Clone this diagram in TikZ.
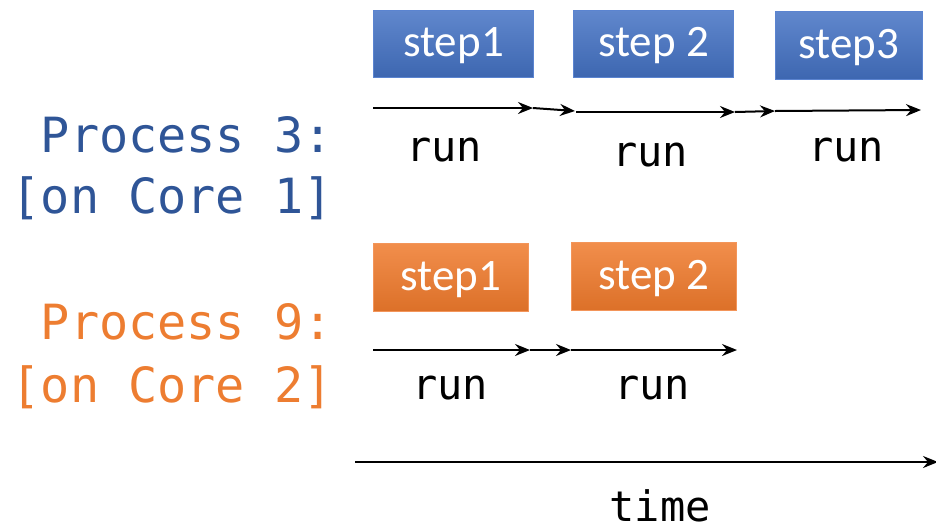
\documentclass[tikz,border=0pt]{standalone}
\usepackage{fontspec}
\usetikzlibrary{arrows.meta}
\newfontfamily\monofont{DejaVu Sans Mono}
\newfontfamily\calfont{Carlito}
\definecolor{pblue}{HTML}{2F5597}
\definecolor{porange}{HTML}{ED7D31}
\definecolor{boxblue}{HTML}{4472C4}
\definecolor{boxblueedge}{HTML}{5B84D0}
\definecolor{boxorange}{HTML}{EF7A2C}
\definecolor{boxorangeedge}{HTML}{F3955A}
\begin{document}
\begin{tikzpicture}[x=1pt,y=-1pt,
  bluebox/.style={draw=boxblueedge,line width=1pt,top color=boxblue!85!white,bottom color=boxblue!90!black,anchor=north west,inner sep=0pt},
  orangebox/.style={draw=boxorangeedge,line width=1pt,top color=boxorange!85!white,bottom color=boxorange!92!black,anchor=north west,inner sep=0pt},
  steptext/.style={text=white,font=\calfont\fontsize{45}{45}\selectfont,inner sep=0pt},
  runarrow/.style={line width=2pt,-{Stealth[length=15pt,width=12pt,inset=5pt]}},
  runlabel/.style={font=\monofont\fontsize{42}{42}\selectfont,inner sep=0pt},
  proclabel/.style={font=\monofont\fontsize{48.5}{48.5}\selectfont,inner sep=0pt,anchor=east}]
\useasboundingbox (0,0) rectangle (936,531);
% Process labels
\node[proclabel,text=pblue] (p3) at (333,135) {Process 3:};
\node[proclabel,text=pblue] (c1) at (333,198) {[on Core 1]};
\node[proclabel,text=porange] (p9) at (333,322) {Process 9:};
\node[proclabel,text=porange] (c2) at (333,387) {[on Core 2]};
% Blue steps
\node[bluebox,minimum width=160pt,minimum height=67pt] (b1) at (373,10) {};
\node[steptext] (b1t) at ([yshift=-2pt]b1.center) {step1};
\node[bluebox,minimum width=160pt,minimum height=67pt] (b2) at (573,10) {};
\node[steptext] (b2t) at ([yshift=-2pt]b2.center) {step 2};
\node[bluebox,minimum width=147pt,minimum height=68pt] (b3) at (775,11) {};
\node[steptext] (b3t) at ([yshift=-2pt]b3.center) {step3};
% Orange steps
\node[orangebox,minimum width=155pt,minimum height=68pt] (o1) at (373,243) {};
\node[steptext] (o1t) at ([yshift=-2pt]o1.center) {step1};
\node[orangebox,minimum width=165pt,minimum height=68pt] (o2) at (571,242) {};
\node[steptext] (o2t) at ([yshift=-2pt]o2.center) {step 2};
% Process 3 arrows
\coordinate (a0) at (373,108);
\coordinate (a1) at (533,108);
\coordinate (a2) at (575,111);
\coordinate (a2s) at (576,112);
\coordinate (a3) at (735,112);
\coordinate (a4) at (775,111);
\coordinate (a5) at (921,110);
\draw[runarrow] (a0) -- (a1);
\draw[runarrow] (a1) -- (a2);
\draw[runarrow] (a2s) -- (a3);
\draw[runarrow] (a3) -- (a4);
\draw[runarrow] (a4) -- (a5);
\node[runlabel] (r1) at (444,150) {run};
\node[runlabel] (r2) at (650,155) {run};
\node[runlabel] (r3) at (846,150) {run};
% Process 9 arrows
\coordinate (q0) at (373,350);
\coordinate (q1) at (530,350);
\coordinate (q2) at (571,350);
\coordinate (q3) at (737,350);
\draw[runarrow] (q0) -- (q1);
\draw[runarrow] (q1) -- (q2);
\draw[runarrow] (q2) -- (q3);
\node[runlabel] (r4) at (450,388) {run};
\node[runlabel] (r5) at (652,388) {run};
% time axis
\coordinate (t0) at (355,462);
\coordinate (t1) at (938,462);
\draw[runarrow] (t0) -- (t1);
\node[runlabel,anchor=base] (tm) at (660,521) {time};
\end{tikzpicture}
\end{document}
